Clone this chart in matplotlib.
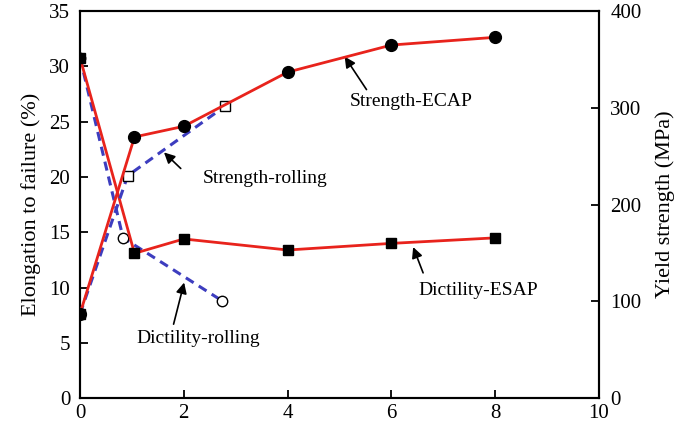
import matplotlib
matplotlib.use("Agg")
import matplotlib.pyplot as plt

plt.rcParams['font.family'] = ['Liberation Serif', 'DejaVu Serif']

# data
ecap_x = [0, 1.05, 2, 4, 6, 8]
strength_ecap = [87, 270, 281, 337, 365, 373]        # MPa, right axis
ductility_ecap = [30.8, 13.1, 14.4, 13.4, 14.0, 14.5]  # %, left axis

roll_x_strength = [0, 0.92, 2.8]
strength_rolling = [87, 230, 302]
roll_x_ductility = [0, 0.83, 2.74]
ductility_rolling = [30.8, 14.5, 8.8]

RED = '#e8231c'
BLUE = '#3d3dbf'

fig = plt.figure(figsize=(6.86, 4.30), dpi=100)
ax = fig.add_axes([0.1166, 0.074, 0.7566, 0.9])
ax2 = ax.twinx()

# left axis: ductility
ax.plot(roll_x_ductility, ductility_rolling, color=BLUE, lw=2.2, ls=(0, (3, 2)),
        marker='o', mfc='white', mec='black', ms=7.5, mew=1.0, zorder=3)
ax.plot(ecap_x, ductility_ecap, color=RED, lw=2.0, marker='s', mfc='black',
        mec='black', ms=7, zorder=4)

# right axis: strength
ax2.plot(roll_x_strength, strength_rolling, color=BLUE, lw=2.2, ls=(0, (3, 2)),
         marker='s', mfc='white', mec='black', ms=7, mew=1.0, zorder=3)
ax2.plot(ecap_x, strength_ecap, color=RED, lw=2.0, marker='o', mfc='black',
         mec='black', ms=8.5, zorder=4)

ax.set_xlim(0, 10)
ax.set_ylim(0, 35)
ax2.set_ylim(0, 400)
ax.set_xticks(range(0, 11, 2))
ax.set_yticks(range(0, 36, 5))
ax2.set_yticks(range(0, 401, 100))

for a in (ax, ax2):
    for s in a.spines.values():
        s.set_linewidth(1.5)
ax.tick_params(axis='y', direction='in', length=6, width=1.3, labelsize=15,
               right=False, pad=7)
ax.tick_params(axis='x', direction='in', length=6, width=1.3, labelsize=15,
               top=False, pad=4)
ax2.tick_params(axis='y', direction='in', length=6, width=1.3, labelsize=15, pad=8)

ax.set_ylabel('Elongation to failure (%)', fontsize=16, labelpad=6)
ax2.set_ylabel('Yield strength (MPa)', fontsize=16, labelpad=10)

arrow = dict(arrowstyle='-|>', color='black', lw=1.2, mutation_scale=16)
notes = [
    ('Strength-ECAP', (6.38, 26.8), (5.55, 27.7), (5.07, 31.1)),
    ('Strength-rolling', (3.56, 19.9), (1.98, 20.6), (1.58, 22.4)),
    ('Dictility-rolling', (2.27, 5.4), (1.79, 6.45), (2.02, 10.7)),
    ('Dictility-ESAP', (7.67, 9.7), (6.63, 11.1), (6.4, 13.9)),
]
for label, txt, tail, head in notes:
    ax.text(txt[0], txt[1], label, fontsize=14, ha='center', va='center')
    ax.annotate('', xy=head, xytext=tail, arrowprops=arrow)

fig.savefig('out.png', dpi=100)
